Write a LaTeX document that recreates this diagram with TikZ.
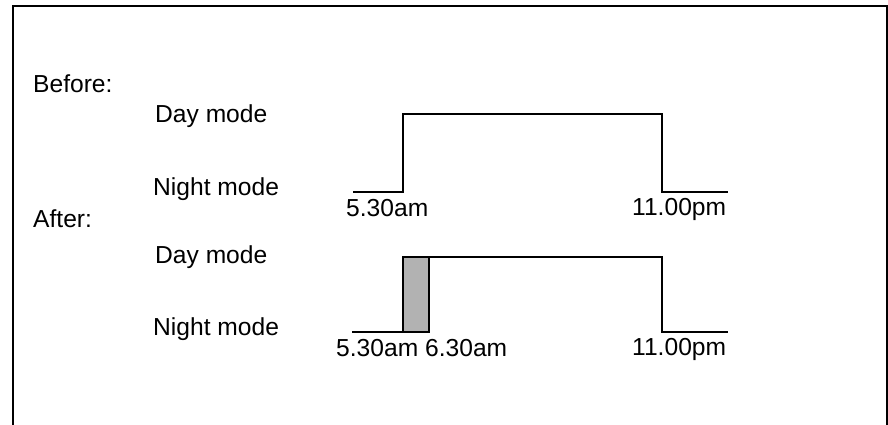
\documentclass[tikz,border=0pt]{standalone}
\usepackage{fontspec}
\setmainfont{Liberation Sans}
\usepackage{tikz}
\usetikzlibrary{positioning}

\begin{document}
\begin{tikzpicture}[
      x=1pt, y=-1pt,
      label/.style={anchor=base west, inner sep=0pt, font=\fontsize{24.6}{28}\selectfont},
      wave/.style={line width=1.8pt},
      frame/.style={line width=2pt}
  ]
  \useasboundingbox (0,0) rectangle (888,425);

  %% ---- Frame (open at the bottom) ----
  \draw[frame] (13,425) -- (13,6) -- (887,6) -- (887,425);

  %% ---- Before ----
  \node[label] (before) at (33,93) {Before:};
  \node[label] (b_day) at (155,122) {Day mode};
  \node[label] (b_night) at (153,195) {Night mode};

  \coordinate (b_start) at (353,192);
  \coordinate (b_rise) at (403,192);
  \coordinate (b_fall) at (662,114);
  \coordinate (b_end) at (728,192);
  \draw[wave] (b_start) -- (b_rise) |- (b_fall) |- (b_end);

  \node[label] (b_on) at (346,216) {5.30am};
  \node[label] (b_off) at (632,215) {11.00pm};

  %% ---- After ----
  \node[label] (after) at (33,227) {After:};
  \node[label] (a_day) at (155,263) {Day mode};
  \node[label] (a_night) at (153,335) {Night mode};

  \coordinate (a_start) at (352,332);
  \coordinate (a_rise) at (403,332);
  \coordinate (a_shift) at (429,257);
  \coordinate (a_fall) at (662,257);
  \coordinate (a_end) at (728,332);
  \fill[gray!60] (a_rise) rectangle (a_shift);
  \draw[wave] (a_start) -- (a_rise) |- (a_fall) |- (a_end);
  \draw[wave] (a_shift) -- (a_shift |- a_rise) -- (a_rise);

  \node[label] (a_on) at (336,356) {5.30am};
  \node[label, right=6.5pt of a_on.base east, anchor=base west] (a_new) {6.30am};
  \node[label] (a_off) at (632,355) {11.00pm};

\end{tikzpicture}
\end{document}
